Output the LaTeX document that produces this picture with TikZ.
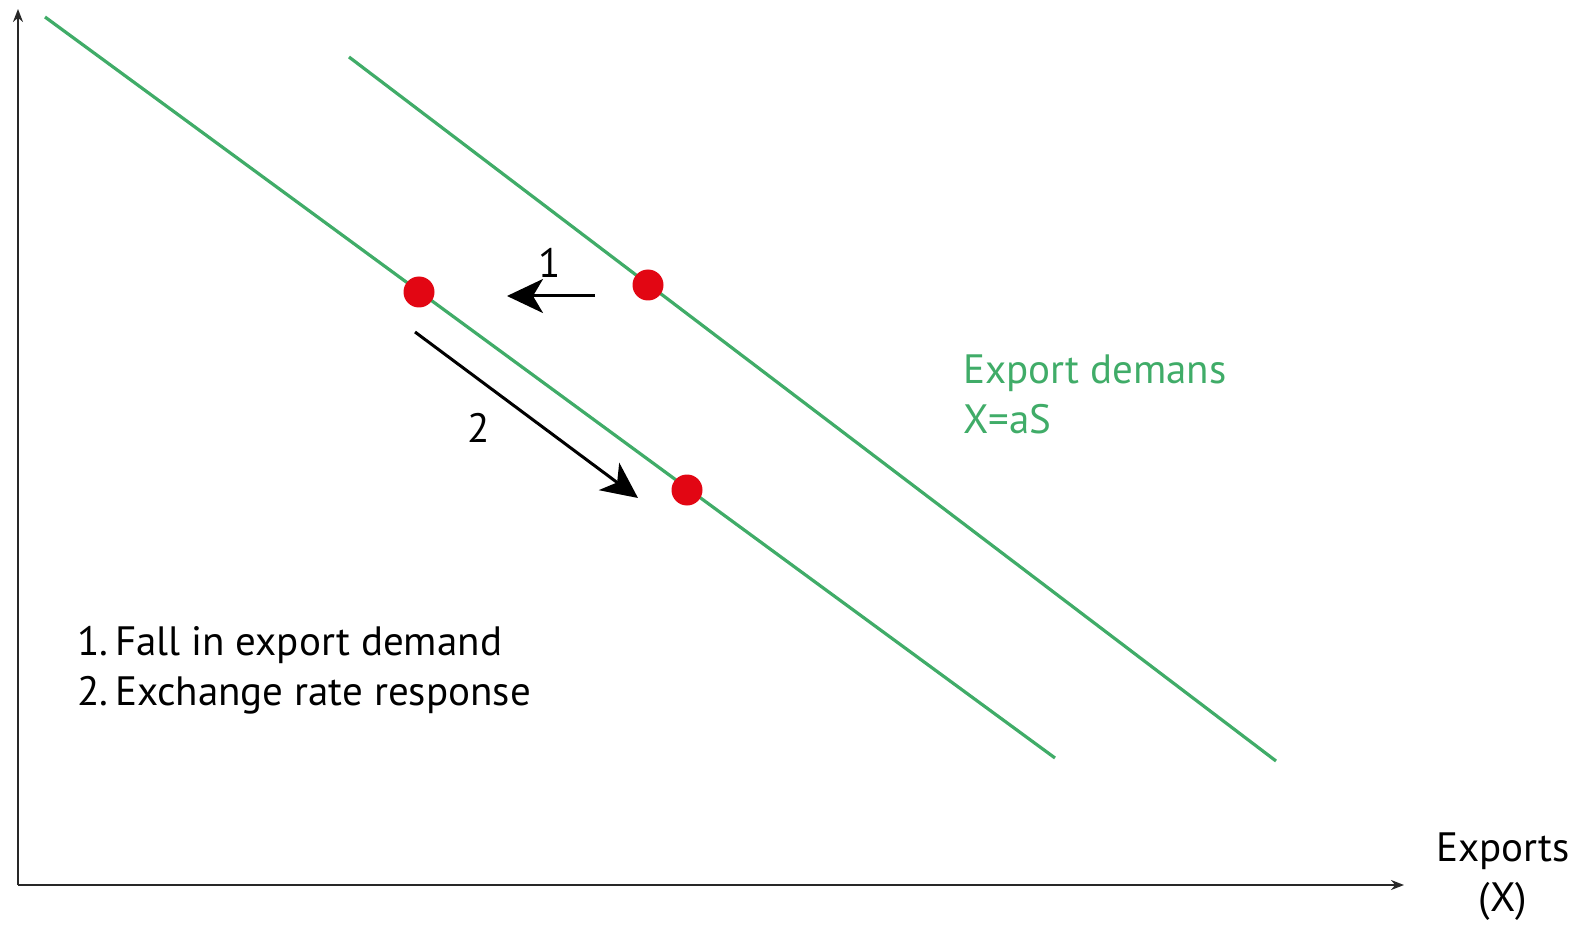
\documentclass[tikz,border=0pt]{standalone}
\usepackage{fontspec}
\setmainfont{PT Sans}
\usetikzlibrary{arrows.meta}
\definecolor{curvegreen}{RGB}{64,172,104}
\definecolor{dotred}{RGB}{226,6,19}
\definecolor{axisgray}{RGB}{40,40,40}
\tikzset{
  curve/.style={draw=curvegreen,line width=3.2pt},
  eqdot/.style={circle,fill=dotred,minimum size=31pt,inner sep=0pt},
  axisline/.style={draw=axisgray,line width=2pt,-{Stealth[length=13pt,width=10pt]}},
  move/.style={draw=black,line width=3pt,-{Stealth[length=36pt,width=34pt,inset=10pt]}},
  lbl/.style={font=\fontsize{41}{50}\selectfont,inner sep=0pt},
}
\begin{document}
\begin{tikzpicture}[x=1pt,y=-1pt]
\useasboundingbox (0,0) rectangle (1580,925);
% axes
\coordinate (O) at (18,885);
\coordinate (ytip) at (18,9);
\coordinate (xtip) at (1404,885);
\draw[axisline] (O) -- (ytip);
\draw[axisline] (O) -- (xtip);
% demand curves
\coordinate (La) at (45,17);
\coordinate (Lb) at (1055,758);
\coordinate (Ra) at (349,57);
\coordinate (Rb) at (1276,761);
\draw[curve] (La) -- (Lb);
\draw[curve] (Ra) -- (Rb);
% equilibrium points
\node[eqdot] (p1) at (419,292) {};
\node[eqdot] (p0) at (648,285) {};
\node[eqdot] (p2) at (687,490) {};
% movement arrows
\coordinate (a1s) at (595,296);
\coordinate (a1e) at (507,296);
\coordinate (a2s) at (415,332);
\coordinate (a2e) at (638,498);
\draw[move] (a1s) -- (a1e);
\draw[move] (a2s) -- (a2e);
\node[lbl,anchor=base] (n1) at (550,278) {1};
\node[lbl,anchor=base] (n2) at (479,442) {2};
% curve label
\node[lbl,anchor=base west,text=curvegreen,align=left] (cl) at (963,433) {Export demans\\X=aS};
% legend
\node[lbl,anchor=base west,align=left] (leg) at (77,705) {1.\,Fall in export demand\\2.\,Exchange rate response};
% axis label
\node[lbl,anchor=base,align=center] (xl) at (1503,911) {Exports\\(X)};
\end{tikzpicture}
\end{document}
